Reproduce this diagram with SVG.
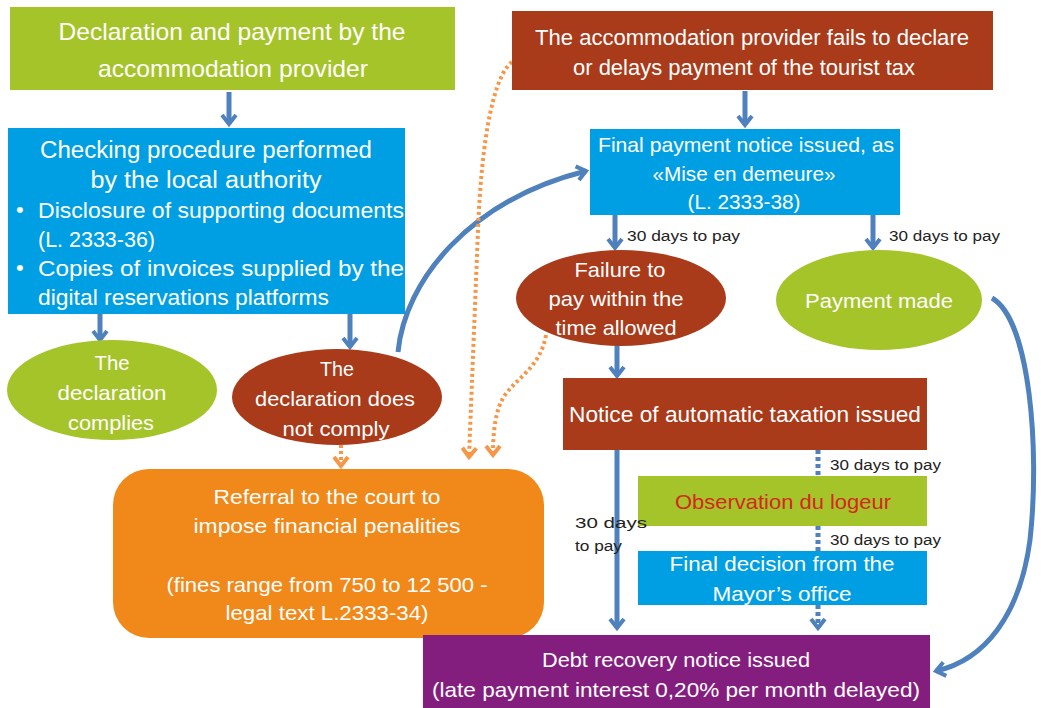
<svg xmlns="http://www.w3.org/2000/svg" width="1041" height="708" viewBox="0 0 1041 708">
<style>
.t{font-family:"Liberation Sans",Arial,sans-serif;fill:#fff;text-anchor:middle}
.l{font-family:"Liberation Sans",Arial,sans-serif;fill:#fff;text-anchor:start;font-size:22px}
.s{font-family:"Liberation Sans",Arial,sans-serif;fill:#222;font-size:14px}
.c{stroke:#4f81bd;stroke-width:5;fill:none}
.d{stroke:#4f81bd;stroke-width:5;fill:none;stroke-dasharray:4 3}
.o{stroke:#f79646;stroke-width:4;fill:none;stroke-dasharray:3 3}
</style>
<defs>
<marker id="ab" viewBox="0 0 14 18" refX="11" refY="9" markerWidth="14" markerHeight="18" markerUnits="userSpaceOnUse" orient="auto">
<path d="M2,2 L11,9 L2,16" stroke="#4f81bd" stroke-width="4" fill="none"/>
</marker>
<marker id="ao" viewBox="0 0 14 18" refX="11" refY="9" markerWidth="14" markerHeight="18" markerUnits="userSpaceOnUse" orient="auto">
<path d="M2,2 L11,9 L2,16" stroke="#f79646" stroke-width="4" fill="none"/>
</marker>
</defs>
<rect width="1041" height="708" fill="#fff"/>
<g id="connectors">
<path class="c" d="M229,92 L229,124" marker-end="url(#ab)"/>
<path class="c" d="M745,91 L745,125" marker-end="url(#ab)"/>
<path class="c" d="M100,314 L100,340" marker-end="url(#ab)"/>
<path class="c" d="M350,314 L350,347" marker-end="url(#ab)"/>
<path class="c" d="M615,215 L615,248" marker-end="url(#ab)"/>
<path class="c" d="M873,215 L873,248" marker-end="url(#ab)"/>
<path class="c" d="M617,345 L617,376" marker-end="url(#ab)"/>
<path class="c" d="M617,450 L617,628" marker-end="url(#ab)"/>
<path class="d" d="M818,450 L818,476"/>
<path class="d" d="M818,526 L818,551"/>
<path class="d" d="M818,605 L818,628" marker-end="url(#ab)"/>
<path class="c" d="M398,352 C405,280 470,200 586,171" marker-end="url(#ab)"/>
<path class="c" d="M992,298 C1030,320 1040,450 1030,540 C1020,615 985,660 936,671" marker-end="url(#ab)"/>
<path class="o" d="M341,445 L341,466" marker-end="url(#ao)"/>
<path class="o" d="M512,62 C495,75 482,130 478,230 L469,457" marker-end="url(#ao)"/>
<path class="o" d="M546,335 C540,370 512,380 502,400 C494,415 493,440 493,455" marker-end="url(#ao)"/>
</g>
<g id="n1">
<rect x="10" y="7" width="445" height="83" fill="#a5c42a"/>
<text class="t" x="232" y="40" font-size="24" textLength="347" lengthAdjust="spacingAndGlyphs">Declaration and payment by the</text>
<text class="t" x="233" y="77" font-size="24" textLength="270" lengthAdjust="spacingAndGlyphs">accommodation provider</text>
</g>
<g id="n2">
<rect x="8" y="128" width="397" height="186" fill="#009fe3"/>
<text class="t" x="206" y="158" font-size="23" textLength="332" lengthAdjust="spacingAndGlyphs">Checking procedure performed</text>
<text class="t" x="206" y="188" font-size="23" textLength="231" lengthAdjust="spacingAndGlyphs">by the local authority</text>
<text class="l" x="16" y="217">•</text>
<text class="l" x="38" y="218" textLength="366" lengthAdjust="spacingAndGlyphs">Disclosure of supporting documents</text>
<text class="l" x="38" y="247" textLength="117" lengthAdjust="spacingAndGlyphs">(L. 2333-36)</text>
<text class="l" x="16" y="275">•</text>
<text class="l" x="38" y="276" textLength="366" lengthAdjust="spacingAndGlyphs">Copies of invoices supplied by the</text>
<text class="l" x="38" y="305" textLength="291" lengthAdjust="spacingAndGlyphs">digital reservations platforms</text>
</g>
<g id="n3">
<rect x="512" y="11" width="481" height="79" fill="#a93a1a"/>
<text class="t" x="752" y="45" font-size="22" textLength="434" lengthAdjust="spacingAndGlyphs">The accommodation provider fails to declare</text>
<text class="t" x="744" y="75" font-size="22" textLength="342" lengthAdjust="spacingAndGlyphs">or delays payment of the tourist tax</text>
</g>
<g id="n4">
<rect x="590" y="129" width="310" height="86" fill="#009fe3"/>
<text class="t" x="746" y="152" font-size="21" textLength="296" lengthAdjust="spacingAndGlyphs">Final payment notice issued, as</text>
<text class="t" x="744" y="181" font-size="21" textLength="183" lengthAdjust="spacingAndGlyphs">«Mise en demeure»</text>
<text class="t" x="744" y="209" font-size="21" textLength="113" lengthAdjust="spacingAndGlyphs">(L. 2333-38)</text>
</g>
<text class="s" x="627" y="241" textLength="113" lengthAdjust="spacingAndGlyphs">30 days to pay</text>
<text class="s" x="889" y="241" textLength="111" lengthAdjust="spacingAndGlyphs">30 days to pay</text>
<g id="n5">
<ellipse cx="621" cy="298" rx="105" ry="48" fill="#a93a1a"/>
<text class="t" x="620" y="277" font-size="21" textLength="91" lengthAdjust="spacingAndGlyphs">Failure to</text>
<text class="t" x="616" y="306" font-size="21" textLength="135" lengthAdjust="spacingAndGlyphs">pay within the</text>
<text class="t" x="616" y="335" font-size="21" textLength="121" lengthAdjust="spacingAndGlyphs">time allowed</text>
</g>
<g id="n6">
<ellipse cx="879" cy="300" rx="103" ry="50" fill="#a5c42a"/>
<text class="t" x="879" y="308" font-size="21" textLength="148" lengthAdjust="spacingAndGlyphs">Payment made</text>
</g>
<g id="n7">
<ellipse cx="112" cy="390" rx="105" ry="50" fill="#a5c42a"/>
<text class="t" x="112" y="370" font-size="21" textLength="35" lengthAdjust="spacingAndGlyphs">The</text>
<text class="t" x="112" y="400" font-size="21" textLength="109" lengthAdjust="spacingAndGlyphs">declaration</text>
<text class="t" x="111" y="430" font-size="21" textLength="86" lengthAdjust="spacingAndGlyphs">complies</text>
</g>
<g id="n8">
<ellipse cx="337" cy="397" rx="105" ry="48" fill="#a93a1a"/>
<text class="t" x="337" y="376" font-size="21" textLength="34" lengthAdjust="spacingAndGlyphs">The</text>
<text class="t" x="335" y="406" font-size="21" textLength="160" lengthAdjust="spacingAndGlyphs">declaration does</text>
<text class="t" x="336" y="436" font-size="21" textLength="107" lengthAdjust="spacingAndGlyphs">not comply</text>
</g>
<g id="n9">
<rect x="563" y="378" width="364" height="72" fill="#a93a1a"/>
<text class="t" x="745" y="422" font-size="22" textLength="352" lengthAdjust="spacingAndGlyphs">Notice of automatic taxation issued</text>
</g>
<text class="s" x="830" y="470" textLength="111" lengthAdjust="spacingAndGlyphs">30 days to pay</text>
<g id="n10">
<rect x="638" y="476" width="289" height="50" fill="#a5c42a"/>
<text class="t" x="783" y="509" font-size="21" style="fill:#d7261e" textLength="216" lengthAdjust="spacingAndGlyphs">Observation du logeur</text>
</g>
<text class="s" x="830" y="545" textLength="111" lengthAdjust="spacingAndGlyphs">30 days to pay</text>
<text class="s" x="575" y="528" textLength="72" lengthAdjust="spacingAndGlyphs">30  days</text>
<text class="s" x="575" y="551" textLength="47" lengthAdjust="spacingAndGlyphs">to pay</text>
<g id="n11">
<rect x="638" y="551" width="289" height="54" fill="#009fe3"/>
<text class="t" x="782" y="571" font-size="21" textLength="225" lengthAdjust="spacingAndGlyphs">Final decision from the</text>
<text class="t" x="782" y="601" font-size="21" textLength="139" lengthAdjust="spacingAndGlyphs">Mayor’s office</text>
</g>
<g id="n12">
<rect x="113" y="469" width="431" height="169" rx="36" fill="#f0891a"/>
<text class="t" x="327" y="504" font-size="21" textLength="227" lengthAdjust="spacingAndGlyphs">Referral to the court to</text>
<text class="t" x="327" y="533" font-size="21" textLength="267" lengthAdjust="spacingAndGlyphs">impose financial penalities</text>
<text class="t" x="327" y="592" font-size="21" textLength="321" lengthAdjust="spacingAndGlyphs">(fines range from 750 to 12 500 -</text>
<text class="t" x="327" y="620" font-size="21" textLength="203" lengthAdjust="spacingAndGlyphs">legal text L.2333-34)</text>
</g>
<g id="n13">
<rect x="423" y="635" width="507" height="73" fill="#841e7e"/>
<text class="t" x="676" y="667" font-size="21" textLength="268" lengthAdjust="spacingAndGlyphs">Debt recovery notice issued</text>
<text class="t" x="676" y="697" font-size="21" textLength="488" lengthAdjust="spacingAndGlyphs">(late payment interest 0,20% per month delayed)</text>
</g>
</svg>
